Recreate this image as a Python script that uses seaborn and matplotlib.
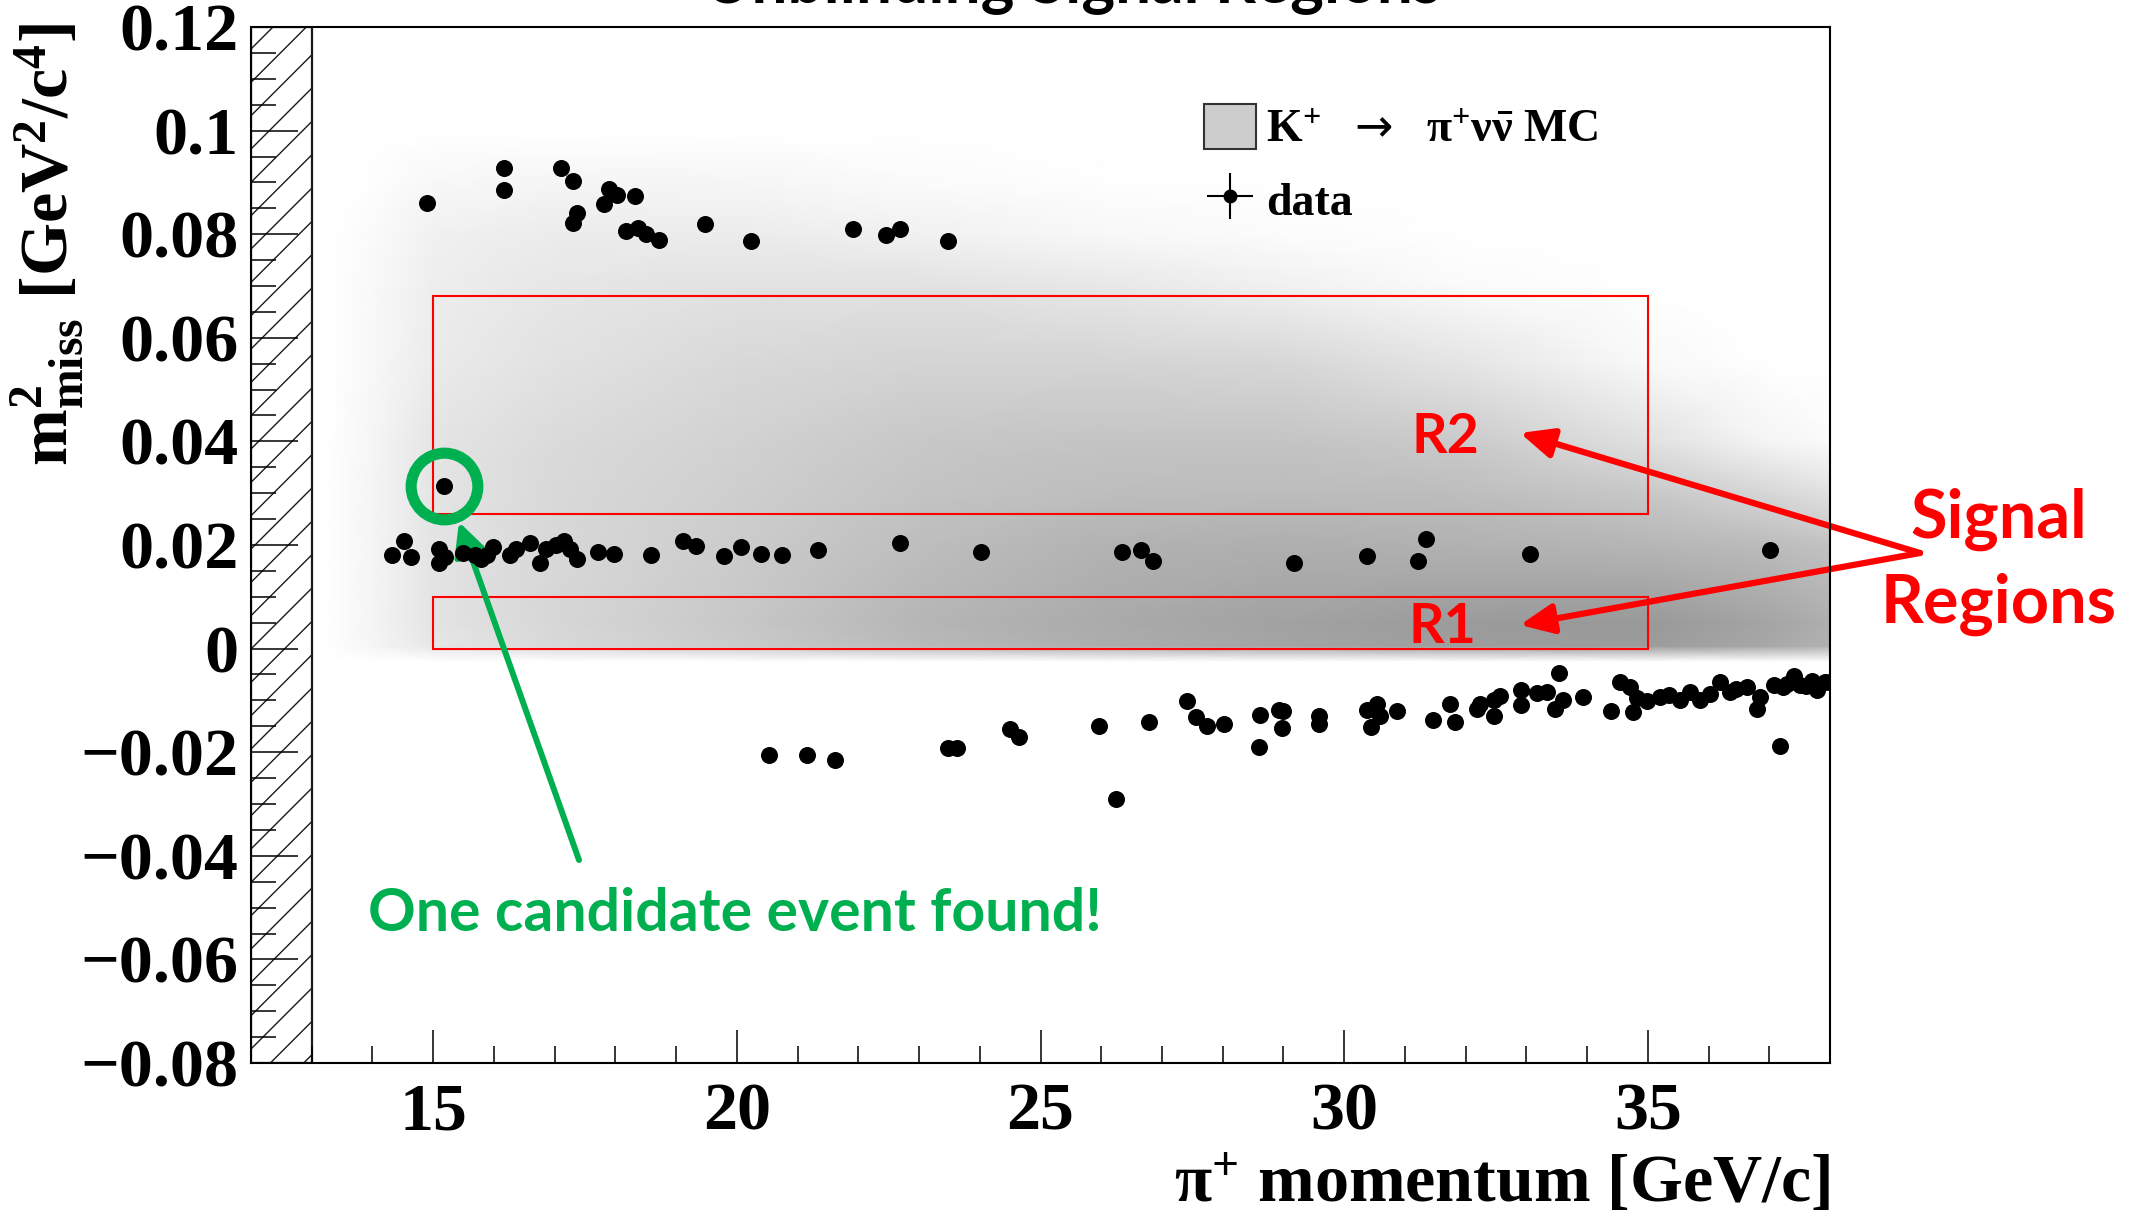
import numpy as np
import matplotlib
matplotlib.use("Agg")
import matplotlib.pyplot as plt
import seaborn as sns
from matplotlib.colors import LinearSegmentedColormap
from matplotlib.patches import Rectangle, Patch
from matplotlib.ticker import MultipleLocator, FixedLocator

# ---------------- data ----------------
# data events: upper band (above signal regions)
upper_p = [14.89, 16.16, 16.16, 17.11, 17.30, 17.36, 17.30, 17.89, 18.03, 17.82,
           18.32, 18.17, 18.37, 18.50, 18.71, 19.48, 20.24, 21.91, 22.46, 22.69, 23.47]
upper_m2 = [0.0860, 0.0927, 0.0885, 0.0927, 0.0902, 0.0841, 0.0822, 0.0888, 0.0875, 0.0858,
            0.0873, 0.0806, 0.0812, 0.0801, 0.0789, 0.0820, 0.0786, 0.0810, 0.0799, 0.0810, 0.0786]

# data events: K -> pi pi0 band (m2 ~ 0.018)
mid_p = [14.32, 14.52, 14.63, 15.10, 15.10, 15.20, 15.49, 15.69, 15.78, 15.98,
         15.88, 16.27, 16.37, 16.60, 16.76, 16.86, 17.02, 17.15, 17.25, 17.36,
         17.71, 17.97, 18.59, 19.11, 19.33, 19.79, 20.07, 20.39, 20.75, 21.34,
         22.69, 24.02, 26.35, 26.65, 26.85, 29.18, 30.37, 31.22, 31.34, 33.06, 37.01]
mid_m2 = [0.0181, 0.0207, 0.0177, 0.0192, 0.0165, 0.0177, 0.0184, 0.0181, 0.0173, 0.0196,
          0.0181, 0.0181, 0.0192, 0.0204, 0.0165, 0.0192, 0.0200, 0.0207, 0.0192, 0.0173,
          0.0186, 0.0182, 0.0181, 0.0207, 0.0198, 0.0178, 0.0196, 0.0182, 0.0181, 0.0190,
          0.0204, 0.0186, 0.0187, 0.0190, 0.0169, 0.0166, 0.0179, 0.0169, 0.0211, 0.0183, 0.0190]

# data events: K -> mu nu band (negative m2)
low_p = [20.53, 21.16, 21.61, 23.48, 23.62, 24.49, 24.64, 25.97, 26.78, 27.42,
         27.56, 27.74, 28.02, 28.61, 28.59, 28.92, 29.00, 28.97, 29.59, 29.59,
         30.37, 30.54, 30.59, 30.44, 30.87, 26.25, 31.47, 31.75, 31.83, 32.24,
         32.18, 32.47, 32.57, 32.46, 32.92, 32.92, 33.17, 33.34, 33.47, 33.61,
         33.53, 33.94, 34.39, 34.54, 34.71, 34.83, 34.76, 34.98, 35.20, 35.35,
         35.53, 35.70, 35.86, 36.02, 36.19, 36.35, 36.45, 36.63, 36.79, 36.85,
         37.07, 37.23, 37.30, 37.40, 37.51, 37.60, 37.70, 37.78, 37.92, 38.00, 37.18]
low_m2 = [-0.0206, -0.0206, -0.0216, -0.0192, -0.0192, -0.0156, -0.0171, -0.0149, -0.0141, -0.0102,
          -0.0133, -0.0149, -0.0145, -0.0128, -0.0190, -0.0118, -0.0120, -0.0154, -0.0131, -0.0145,
          -0.0118, -0.0106, -0.0131, -0.0151, -0.0121, -0.0290, -0.0137, -0.0106, -0.0141, -0.0107,
          -0.0117, -0.0131, -0.0092, -0.0100, -0.0080, -0.0109, -0.0086, -0.0083, -0.0116, -0.0100,
          -0.0048, -0.0094, -0.0120, -0.0064, -0.0074, -0.0096, -0.0122, -0.0102, -0.0093, -0.0090,
          -0.0099, -0.0083, -0.0099, -0.0087, -0.0064, -0.0083, -0.0078, -0.0074, -0.0117, -0.0093,
          -0.0070, -0.0074, -0.0068, -0.0053, -0.0070, -0.0072, -0.0063, -0.0080, -0.0064, -0.0064, -0.0188]

# the one candidate event
cand_p = [15.18]
cand_m2 = [0.0314]

# signal regions (m2 bounds) and momentum range
sr_p_range = [15.0, 35.0]
r1_m2 = [0.0, 0.010]
r2_m2 = [0.026, 0.068]
excluded_p = [12.0, 13.0]

# MC K+ -> pi+ nu nubar density (relative shade) on a coarse grid
mc_p = [13.3, 14.0, 15.0, 17.0, 20.0, 23.0, 26.0, 29.0, 32.0, 35.0, 37.0, 38.0]
mc_m2 = [-0.0025, 0.0005, 0.005, 0.020, 0.030, 0.040, 0.055, 0.070, 0.080, 0.090, 0.100]
mc_density = [
    [0, 0, 0, 0, 0, 0, 0, 0, 0, 0, 0, 0],
    [0, 6, 17, 26, 36, 48, 56, 62, 67, 68, 60, 53],
    [0, 7, 19, 28, 38, 50, 58, 64, 69, 70, 62, 55],
    [0, 7, 19, 27, 35, 45, 52, 55, 53, 50, 46, 42],
    [0, 7, 18, 26, 33, 41, 45, 46, 45, 38, 28, 21],
    [0, 6, 18, 25, 31, 38, 41, 41, 36, 21, 7, 3],
    [0, 5, 14, 20, 26, 30, 30, 28, 18, 4, 0, 0],
    [0, 4, 12, 17, 20, 20, 16, 10, 3, 0, 0, 0],
    [0, 3, 10, 13, 13, 10, 5, 2, 0, 0, 0, 0],
    [0, 1, 5, 7, 6, 3, 1, 0, 0, 0, 0, 0],
    [0, 0, 0, 0, 0, 0, 0, 0, 0, 0, 0, 0],
]

x_ticks = [15, 20, 25, 30, 35]
y_ticks = [-0.08, -0.06, -0.04, -0.02, 0, 0.02, 0.04, 0.06, 0.08, 0.1, 0.12]
y_tick_labels = ["\u22120.08", "\u22120.06", "\u22120.04", "\u22120.02", "0",
                 "0.02", "0.04", "0.06", "0.08", "0.1", "0.12"]

# ---------------- style ----------------
plt.rcParams["font.family"] = ["Liberation Serif", "DejaVu Serif"]
plt.rcParams["font.weight"] = "bold"
plt.rcParams["mathtext.fontset"] = "custom"
plt.rcParams["mathtext.rm"] = "Liberation Serif:bold"
plt.rcParams["mathtext.it"] = "Liberation Serif:bold"
plt.rcParams["mathtext.bf"] = "Liberation Serif:bold"
plt.rcParams["mathtext.sf"] = "DejaVu Sans:normal"
plt.rcParams["hatch.linewidth"] = 1.0
plt.rcParams["axes.unicode_minus"] = True

W, H = 2149, 1215
fig = plt.figure(figsize=(W / 100, H / 100), dpi=100)
ax = fig.add_axes([251 / W, 1 - 1063 / H, 1579 / W, 1036 / H])

# MC histogram
cmap = LinearSegmentedColormap.from_list("mc", ["#ffffff", "#6e6e6e"])
PX, MY = np.meshgrid(mc_p, mc_m2)
ax.pcolormesh(PX, MY, np.array(mc_density, dtype=float), cmap=cmap, vmin=0, vmax=100,
              shading="gouraud", zorder=1, rasterized=True)

# excluded (hatched) momentum region
ax.axvspan(excluded_p[0], excluded_p[1], facecolor="white", edgecolor="#1a1a1a",
           hatch="/", lw=1.6, zorder=2)

# signal region boxes
for lo, hi in (r1_m2, r2_m2):
    ax.add_patch(Rectangle((sr_p_range[0], lo), sr_p_range[1] - sr_p_range[0], hi - lo,
                           fill=False, edgecolor="#ff0000", lw=1.5, zorder=3))

# data events
all_p = upper_p + mid_p + cand_p + low_p
all_m2 = upper_m2 + mid_m2 + cand_m2 + low_m2
sns.scatterplot(x=all_p, y=all_m2, ax=ax, color="black", s=150, linewidth=0,
                marker="o", zorder=5, legend=False)

# axes
ax.set_xlim(12, 38)
ax.set_ylim(-0.08, 0.12)
ax.set_axisbelow(False)
ax.xaxis.set_major_locator(FixedLocator(x_ticks))
ax.xaxis.set_minor_locator(MultipleLocator(1))
ax.yaxis.set_major_locator(FixedLocator(y_ticks))
ax.set_yticklabels(y_tick_labels)
ax.yaxis.set_minor_locator(MultipleLocator(0.005))
ax.tick_params(axis="both", which="both", direction="in", colors="black",
               top=False, right=False, labelsize=49)
ax.tick_params(axis="y", which="major", length=34, width=1.1, pad=9)
ax.tick_params(axis="y", which="minor", length=18, width=1.1)
ax.tick_params(axis="x", which="major", length=24, width=1.1, pad=14)
ax.tick_params(axis="x", which="minor", length=12, width=1.1)
for lab in ax.get_xticklabels() + ax.get_yticklabels():
    lab.set_fontweight("bold")
for sp in ax.spines.values():
    sp.set_linewidth(1.5)
    sp.set_color("black")
    sp.set_zorder(6)

ax.set_xlabel(r"$\mathrm{\pi^{+}}$ momentum [GeV/c]", fontsize=49, fontweight="bold",
              ha="right")
ax.xaxis.set_label_coords(1.0, -0.087)
ax.set_ylabel(r"$\mathrm{m^{2}_{miss}\ [GeV^{2}/c^{4}]}$", fontsize=49, ha="right")
ax.yaxis.set_label_coords(-0.1045, 1.004)

# legend
mc_handle = Patch(facecolor="#cdcdcd", edgecolor="#333333", linewidth=1.5)
eb = ax.errorbar([np.nan], [np.nan], xerr=[1.0], yerr=[0.01], fmt="o", color="black",
                 ms=9, elinewidth=1.5, capsize=0)
ax.legend([mc_handle, eb],
          [r"$\mathrm{K^{+}}\ \ \mathsf{\rightarrow}\ \ \mathrm{\pi^{+}\nu\bar{\nu}}$ MC", "data"],
          loc="upper left", bbox_to_anchor=(1204 / W, 1 - 104 / H),
          bbox_transform=fig.transFigure, frameon=False,
          prop=dict(family="Liberation Serif", weight="bold", size=33),
          handlelength=1.14, handleheight=1.14, handletextpad=0.22,
          labelspacing=0.54, borderpad=0, borderaxespad=0)

# title (cut off at the top edge, as in the reference)
fig.text(1072 / W, 1 - 2 / H, "Unblinding Signal Regions", ha="center", va="baseline",
         fontsize=46, fontweight="bold", family="Lato")

# ---- annotations ----
green = "#00b050"
red = "#ff0000"
ax.plot(cand_p, cand_m2, ls="none", marker="o", ms=48, mfc="none", mec=green, mew=8,
        zorder=6)
ax.annotate("", xy=(459, H - 522), xycoords="figure pixels",
            xytext=(579, H - 860), textcoords="figure pixels",
            arrowprops=dict(arrowstyle="-|>,head_length=1.0,head_width=0.5", color=green,
                            lw=4.3, shrinkA=0, shrinkB=0, mutation_scale=20))
fig.text(735 / W, 1 - 914 / H, "One candidate event found!", ha="center", va="center",
         color=green, fontsize=42.5, fontweight="bold", family="Lato")

fig.text(1445 / W, 1 - 437 / H, "R2", ha="center", va="center", color=red,
         fontsize=40, fontweight="bold", family="Lato")
fig.text(1442 / W, 1 - 627 / H, "R1", ha="center", va="center", color=red,
         fontsize=40, fontweight="bold", family="Lato")
for tip in ((1520, 433), (1520, 625)):
    ax.annotate("", xy=(tip[0], H - tip[1]), xycoords="figure pixels",
                xytext=(1920, H - 553), textcoords="figure pixels",
                arrowprops=dict(arrowstyle="-|>,head_length=1.0,head_width=0.45", color=red,
                                lw=4.5, shrinkA=0, shrinkB=0, mutation_scale=20))
fig.text(1999 / W, 1 - 562 / H, "Signal\nRegions", ha="center", va="center",
         multialignment="center", color=red, fontsize=48, fontweight="bold",
         family="Lato", linespacing=1.43)

fig.savefig("out.png", dpi=100)
